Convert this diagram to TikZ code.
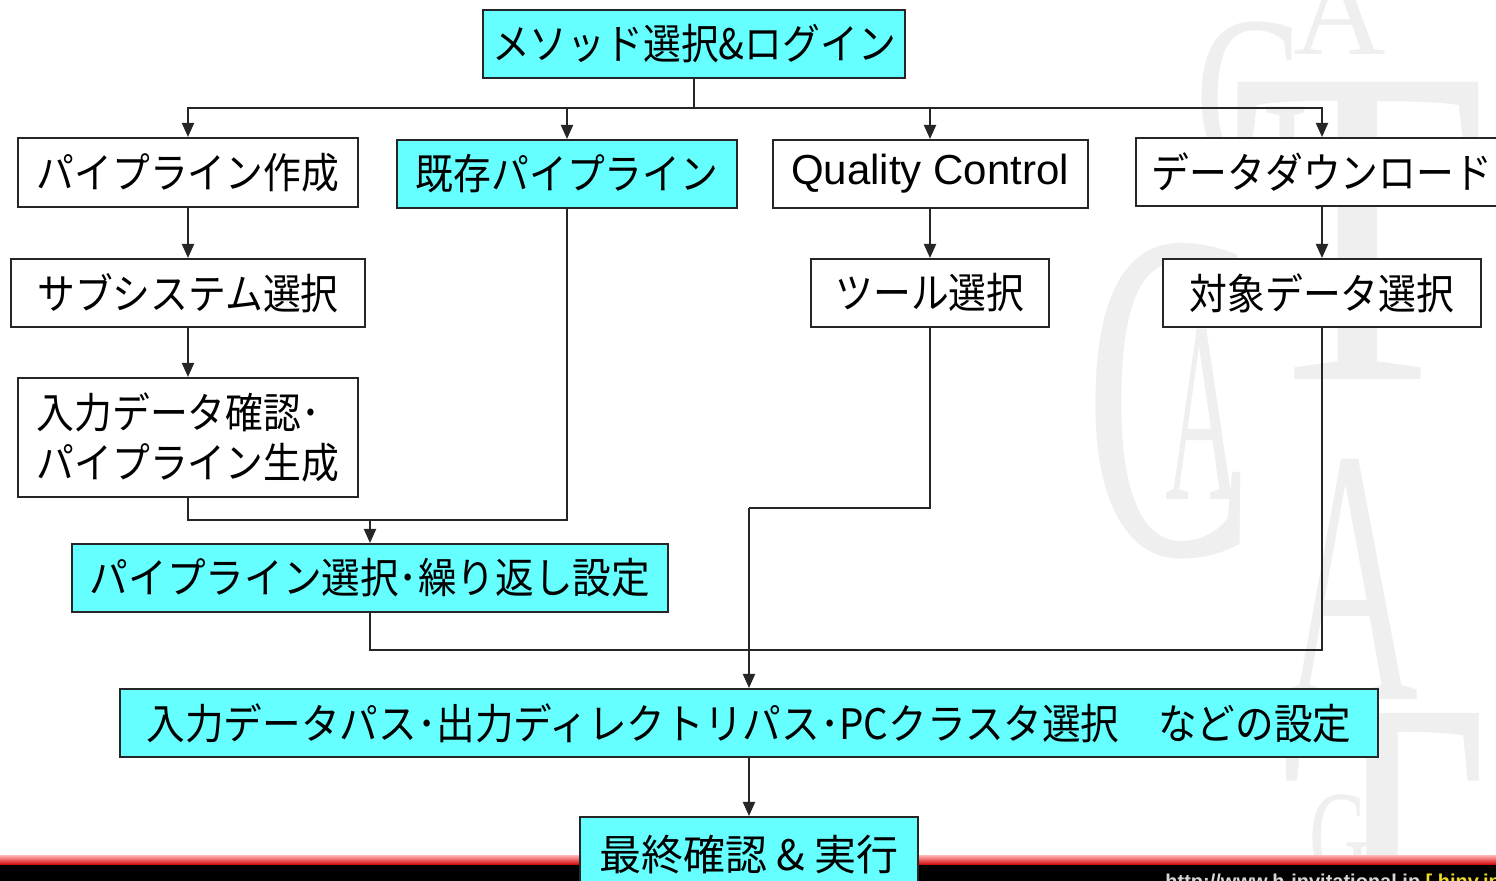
\documentclass[tikz,border=0pt]{standalone}
\usepackage{fontspec}
\usetikzlibrary{arrows.meta}
\newfontfamily\jp[FakeStretch=0.9]{Noto Sans CJK JP}
\newfontfamily\jpw{Noto Sans CJK JP}
\newfontfamily\jpc[FakeStretch=0.92]{Noto Sans CJK JP}
\newfontfamily\lat{Liberation Sans}
\newfontfamily\ser{Liberation Serif}
\definecolor{boxcyan}{RGB}{102,255,255}
\definecolor{wmgray}{RGB}{239,239,239}
\definecolor{urlgray}{RGB}{215,215,215}
\definecolor{urlyellow}{RGB}{240,220,40}
\tikzset{
  stepbox/.style={draw=black!85, line width=1pt, inner sep=0pt, minimum height=34pt,
    font=\jp\fontsize{21pt}{25pt}\selectfont},
  cyanbox/.style={stepbox, fill=boxcyan},
  whitebox/.style={stepbox, fill=white},
  conn/.style={draw=black!85, line width=1pt},
  arr/.style={conn, -{Triangle[width=6pt,length=7pt]}},
  wm/.style={text=wmgray, inner sep=0pt, anchor=base}
}
\begin{document}
\begin{tikzpicture}[x=0.5pt,y=-0.5pt]
\useasboundingbox (0,0) rectangle (1496,881);
\fill[white] (0,0) rectangle (1496,881);
% watermark
\node[wm, font=\ser\fontsize{64pt}{64pt}\selectfont] (wa1) at (1340,55) {A};
\node[wm, font=\ser\fontsize{113pt}{113pt}\selectfont] (wg1) at (1253,172) {\scalebox{0.7}[1]{G}};
\node[wm, font=\ser\fontsize{227pt}{227pt}\selectfont] (wt1) at (1358,380) {\scalebox{0.92}[1]{T}};
\node[wm, font=\ser\fontsize{235pt}{235pt}\selectfont] (wc1) at (1170,555) {\scalebox{0.54}[1]{C}};
\node[wm, font=\ser\fontsize{129pt}{129pt}\selectfont] (wa2) at (1203,500) {\scalebox{0.4}[1]{A}};
\node[wm, font=\ser\fontsize{182pt}{182pt}\selectfont] (wa3) at (1352,700) {\scalebox{0.51}[1]{A}};
\node[wm, font=\ser\fontsize{220pt}{220pt}\selectfont] (wt2) at (1383,1002) {\scalebox{0.76}[1]{T}};
\node[wm, font=\ser\fontsize{64pt}{64pt}\selectfont] (wg2) at (1340,880) {\scalebox{0.65}[1]{G}};
% bottom bar
\shade[top color=red!35, bottom color=red!80!black] (0,856) rectangle (1496,865);
\fill[black] (0,865) rectangle (1496,890);
\node[anchor=north west, inner sep=0pt, font=\lat\bfseries\fontsize{10pt}{12pt}\selectfont] (url) at (1165,874)
  {\textcolor{urlgray}{http://www.h-invitational.jp} \textcolor{urlyellow}{[ hinv.jp}};
% boxes
\node[cyanbox, minimum width=211pt] (top) at (694,44) {メソッド選択\&ログイン};
\node[whitebox, minimum width=170pt, minimum height=34.5pt] (pc) at (188,172.5) {パイプライン作成};
\node[cyanbox, minimum width=170pt] (kz) at (567,174) {既存パイプライン};
\node[whitebox, minimum width=157.5pt, font=\lat\fontsize{21pt}{25pt}\selectfont] (qc) at (930,174) {Quality Control};
\node[whitebox, minimum width=186pt] (dl) at (1322,172) {データダウンロード};
\node[whitebox, minimum width=177pt] (ss) at (188,293) {サブシステム選択};
\node[whitebox, minimum width=170pt, minimum height=59.5pt, align=left] (ic) at (188,437.5) {入力データ確認･\\パイプライン生成};
\node[whitebox, minimum width=119pt] (tool) at (930,293) {ツール選択};
\node[whitebox, minimum width=159pt] (tg) at (1322,293) {対象データ選択};
\node[cyanbox, minimum width=298pt, font=\jpc\fontsize{21pt}{25pt}\selectfont] (ps) at (370,578) {パイプライン選択･繰り返し設定};
\node[cyanbox, minimum width=629pt, font=\jpc\fontsize{21pt}{25pt}\selectfont] (io) at (749,723) {入力データパス･出力ディレクトリパス･PCクラスタ選択　などの設定};
\node[cyanbox, minimum width=169pt, minimum height=38pt, font=\jpw\fontsize{21pt}{25pt}\selectfont] (fin) at (749,855) {最終確認 \& 実行};
% connectors
\coordinate (br) at (694,108);
\coordinate (m1) at (370,520);
\coordinate (m2) at (749,508);
\coordinate (m3) at (1322,650);
\draw[conn] (top.south) -- (br);
\draw[arr] (br) -| (pc.north);
\draw[arr] (br) -| (kz.north);
\draw[arr] (br) -| (qc.north);
\draw[arr] (br) -| (dl.north);
\draw[arr] (pc.south) -- (ss.north);
\draw[arr] (ss.south) -- (ic.north);
\draw[arr] (qc.south) -- (tool.north);
\draw[arr] (dl.south) -- (tg.north);
\draw[conn] (ic.south) |- (m1);
\draw[conn] (kz.south) |- (m1);
\draw[arr] (m1) -- (ps.north);
\draw[conn] (tool.south) |- (m2);
\draw[arr] (m2) -- (io.north);
\draw[conn] (ps.south) |- (m3) -- (tg.south);
\draw[arr] (io.south) -- (fin.north);
\end{tikzpicture}
\end{document}
